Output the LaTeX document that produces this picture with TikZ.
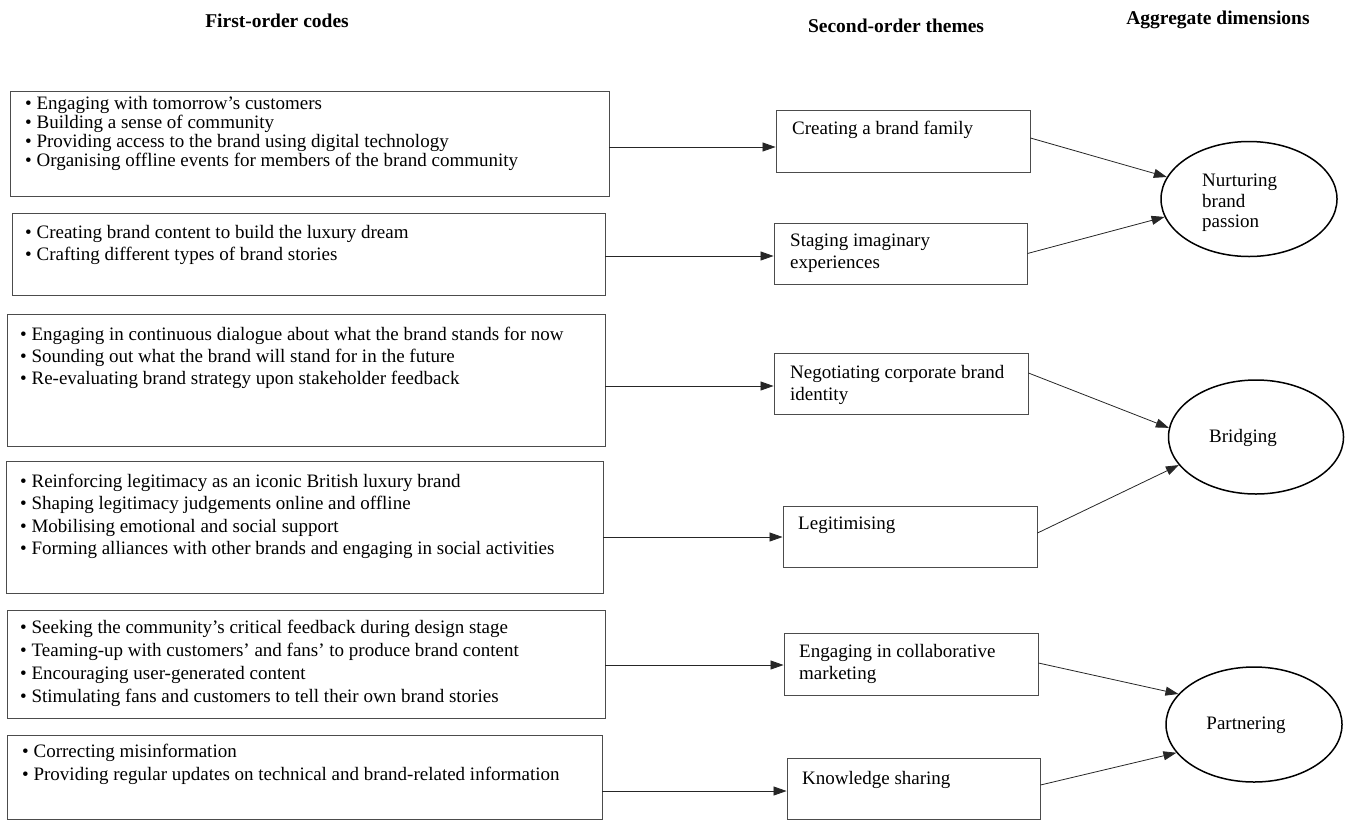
\documentclass[tikz,border=0pt]{standalone}
\usepackage{fontspec}
\setmainfont{Liberation Serif}
\usetikzlibrary{arrows.meta,shapes.geometric}
\begin{document}
\begin{tikzpicture}[x=1pt,y=-1pt,
  box/.style={draw=black!70, line width=0.9pt, inner sep=0pt, rectangle},
  oval/.style={draw=black, line width=1.5pt, ellipse, inner sep=0pt},
  txt/.style={anchor=north west, inner sep=0pt, align=left, font=\fontsize{19}{22}\selectfont},
  ctxt/.style={inner sep=0pt, align=center, font=\fontsize{19}{22}\selectfont},
  head/.style={inner sep=0pt, font=\fontsize{19.5}{22}\selectfont\bfseries},
  arr/.style={draw=black!85, line width=0.8pt, -{Triangle[length=13pt,width=9pt]}}]
\useasboundingbox (0,0) rectangle (1348,820);
% headers
\node[head] (h1) at (277,21) {First-order codes};
\node[head] (h2) at (896,26) {Second-order themes};
\node[head] (h3) at (1218,20) {Aggregate dimensions};
% first-order boxes
\node[box, minimum width=599pt, minimum height=105pt] (b1) at (309.5,143.5) {};
\node[box, minimum width=593pt, minimum height=82pt] (b2) at (308.5,254) {};
\node[box, minimum width=598pt, minimum height=132pt] (b3) at (306,380) {};
\node[box, minimum width=597pt, minimum height=132pt] (b4) at (304.5,527) {};
\node[box, minimum width=598pt, minimum height=108pt] (b5) at (306,664) {};
\node[box, minimum width=595pt, minimum height=84pt] (b6) at (304.5,777) {};
\node[txt, font=\fontsize{19}{19.2}\selectfont] (t1) at (25,96) {• Engaging with tomorrow’s customers\\• Building a sense of community\\• Providing access to the brand using digital technology\\• Organising offline events for members of the brand community};
\node[txt] (t2) at (25,225) {• Creating brand content to build the luxury dream\\• Crafting different types of brand stories};
\node[txt] (t3) at (20,327) {• Engaging in continuous dialogue about what the brand stands for now\\• Sounding out what the brand will stand for in the future\\• Re-evaluating brand strategy upon stakeholder feedback};
\node[txt, font=\fontsize{19}{22.3}\selectfont] (t4) at (20,474) {• Reinforcing legitimacy as an iconic British luxury brand\\• Shaping legitimacy judgements online and offline\\• Mobilising emotional and social support\\• Forming alliances with other brands and engaging in social activities};
\node[txt, font=\fontsize{19}{23}\selectfont] (t5) at (20,620) {• Seeking the community’s critical feedback during design stage\\• Teaming-up with customers’ and fans’ to produce brand content\\• Encouraging user-generated content\\• Stimulating fans and customers to tell their own brand stories};
\node[txt, font=\fontsize{19}{23}\selectfont] (t6) at (22,744) {• Correcting misinformation\\• Providing regular updates on technical and brand-related information};
% second-order boxes
\node[box, minimum width=254pt, minimum height=62pt] (m1) at (903,141) {};
\node[box, minimum width=253pt, minimum height=61pt] (m2) at (900.5,253.5) {};
\node[box, minimum width=254pt, minimum height=61pt] (m3) at (901,383.5) {};
\node[box, minimum width=254pt, minimum height=61pt] (m4) at (910,536.5) {};
\node[box, minimum width=254pt, minimum height=62pt] (m5) at (911,664) {};
\node[box, minimum width=253pt, minimum height=61pt] (m6) at (913.5,788.5) {};
\node[txt] (s1) at (792,121) {Creating a brand family};
\node[txt] (s2) at (790,234) {Staging imaginary\\experiences};
\node[txt] (s3) at (790,365) {Negotiating corporate brand\\identity};
\node[txt] (s4) at (798,517) {Legitimising};
\node[txt] (s5) at (799,644) {Engaging in collaborative\\marketing};
\node[txt] (s6) at (802,771) {Knowledge sharing};
% aggregate ellipses
\node[oval, minimum width=176pt, minimum height=115pt] (e1) at (1249,199) {};
\node[oval, minimum width=175pt, minimum height=114pt] (e2) at (1256,437) {};
\node[oval, minimum width=176pt, minimum height=115pt] (e3) at (1254,724.5) {};
\node[txt, font=\fontsize{19}{20.5}\selectfont] (a1) at (1202,174) {Nurturing\\brand\\passion};
\node[ctxt] (a2) at (1243,438) {Bridging};
\node[ctxt] (a3) at (1246,725) {Partnering};
% connectors first -> second
\draw[arr] ([yshift=-3.5pt]b1.east) -- ([yshift=-6pt]m1.west);
\draw[arr] ([yshift=-2pt]b2.east) -- ([yshift=-2.5pt]m2.west);
\draw[arr] ([yshift=-6pt]b3.east) -- ([yshift=-2.5pt]m3.west);
\draw[arr] ([yshift=-10pt]b4.east) -- ([yshift=-0.5pt]m4.west);
\draw[arr] ([yshift=-1pt]b5.east) -- ([yshift=-1pt]m5.west);
\draw[arr] ([yshift=-14pt]b6.east) -- ([yshift=-2.5pt]m6.west);
% connectors second -> aggregate
\draw[arr] ([yshift=3pt]m1.east) -- (e1.165.5);
\draw[arr] (m2.east) -- (e1.192);
\draw[arr] ([yshift=10.5pt]m3.east) -- (e2.174);
\draw[arr] ([yshift=3.5pt]m4.east) -- (e2.200);
\draw[arr] ([yshift=1pt]m5.east) -- (e3.158.6);
\draw[arr] ([yshift=3.5pt]m6.east) -- (e3.200);
\end{tikzpicture}
\end{document}
